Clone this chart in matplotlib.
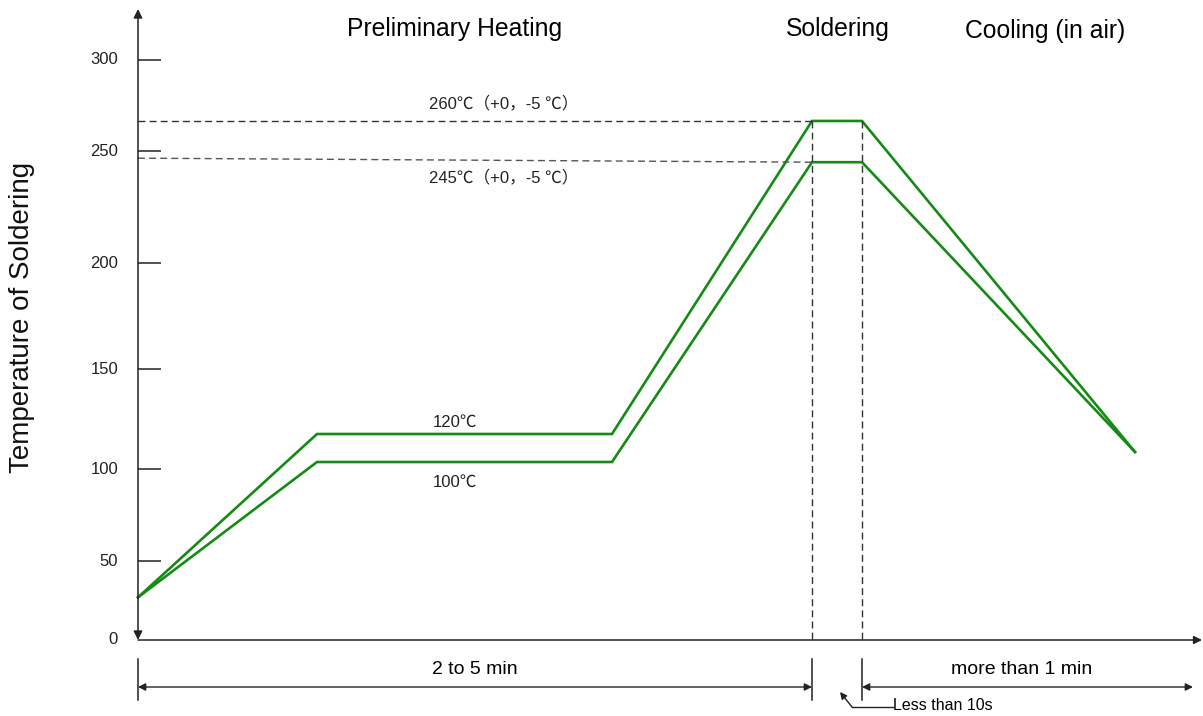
import numpy as np
import matplotlib
matplotlib.use("Agg")
import matplotlib.pyplot as plt

plt.rcParams['font.family'] = ['Liberation Sans', 'DejaVu Sans']
cjk = ['Liberation Sans', 'Noto Sans CJK JP', 'DejaVu Sans']

# y axis of the sketch is not linear: tick values and their drawn heights
tick_temps = [0, 50, 100, 150, 200, 250, 300]
tick_heights = [0, 79, 171, 271, 377, 489, 580]

# schematic time positions of the profile corners
time_pts = [0, 179, 474, 674, 724, 997]
upper_temp = [27, 117.5, 117.5, 266.5, 266.5, 108.5]
lower_temp = [27, 103.5, 103.5, 245, 245, 108.5]

# reference lines
peak_hi_line = [266.5, 266.5]
peak_lo_line = [246.8, 245]

ext_t = [-100] + tick_temps + [400]
ext_h = [-158] + tick_heights + [762]

def fwd(t):
    return np.interp(t, ext_t, ext_h)

def inv(h):
    return np.interp(h, ext_h, ext_t)

fig = plt.figure(figsize=(12.03, 7.16), dpi=100)
ax = fig.add_axes([0, 0, 1, 1])
ax.set_yscale('function', functions=(fwd, inv))
ax.set_xlim(-138, 1065)
ax.set_ylim(inv(-76), inv(640))
ax.axis('off')

green = '#158a15'
ink = '#222222'

# profile curves
ax.plot(time_pts, upper_temp, color=green, lw=1.9, solid_joinstyle='miter')
ax.plot(time_pts, lower_temp, color=green, lw=1.9, solid_joinstyle='miter')

# dashed guides
ax.plot([0, time_pts[3]], peak_hi_line, ls=(0, (5, 3)), color='#333333', lw=1)
ax.plot([0, time_pts[3]], peak_lo_line, ls=(0, (5, 3)), color='#555555', lw=1)
for xv in time_pts[3:5]:
    ax.plot([xv, xv], [upper_temp[3], 0], ls=(0, (5, 3)), color='#333333', lw=1)

# axes with arrows
arr = dict(arrowstyle='<|-|>', color=ink, lw=1.1, mutation_scale=13, shrinkA=0, shrinkB=0)
ax.annotate('', xy=(0, inv(631)), xytext=(0, 0), arrowprops=arr)
ax.annotate('', xy=(1064, 0), xytext=(0, 0),
            arrowprops=dict(arrowstyle='-|>', color=ink, lw=1.1, mutation_scale=12,
                            shrinkA=0, shrinkB=0))

# ticks and tick labels
ax.hlines(tick_temps[1:], 0, 23, color=ink, lw=1.1)
for t in tick_temps:
    ax.text(-20, t, str(t), ha='right', va='center', fontsize=12, color='#222222')

fig.text(22 / 1203, 1 - 317 / 716, 'Temperature of Soldering', rotation=90, ha='center',
         va='center', fontsize=20, color='#111111')

# phase titles
fig.text(455 / 1203, 1 - 29 / 716, 'Preliminary Heating', ha='center', va='center', fontsize=17.8)
fig.text(838 / 1203, 1 - 29 / 716, 'Soldering', ha='center', va='center', fontsize=17.8)
fig.text(1045 / 1203, 1 - 31 / 716, 'Cooling (in air)', ha='center', va='center', fontsize=17.8)

# temperature notes
ax.text(366, inv(640 - 103), '260℃（+0，-5 ℃）', ha='center', va='center', fontsize=12,
        family=cjk, color='#222222')
ax.text(366, inv(640 - 177), '245℃（+0，-5 ℃）', ha='center', va='center', fontsize=12,
        family=cjk, color='#222222')
ax.text(317, inv(640 - 422), '120℃', ha='center', va='center', fontsize=12, family=cjk,
        color='#222222')
ax.text(317, inv(640 - 482), '100℃', ha='center', va='center', fontsize=12, family=cjk,
        color='#222222')

# dimension lines below the axis
y_top = inv(640 - 659)
y_bot = inv(640 - 700)
y_dim = inv(640 - 687)
for xv in [0, time_pts[3], time_pts[4]]:
    ax.plot([xv, xv], [y_top, y_bot], color=ink, lw=1.1)
dim = dict(arrowstyle='<|-|>', color=ink, lw=1, mutation_scale=11, shrinkA=0, shrinkB=0)
ax.annotate('', xy=(0, y_dim), xytext=(time_pts[3], y_dim), arrowprops=dim)
ax.annotate('', xy=(time_pts[4], y_dim), xytext=(1055, y_dim), arrowprops=dim)
ax.text(time_pts[3] / 2, inv(640 - 670), '2 to 5 min', ha='center', va='center', fontsize=14)
ax.text(884, inv(640 - 670), 'more than 1 min', ha='center', va='center', fontsize=14)

# "Less than 10s" leader
ax.plot([714, 755], [inv(640 - 707)] * 2, color=ink, lw=1)
ax.annotate('', xy=(702, inv(640 - 692)), xytext=(714, inv(640 - 707)),
            arrowprops=dict(arrowstyle='-|>', color=ink, lw=1, mutation_scale=10,
                            shrinkA=0, shrinkB=0))
ax.text(755, inv(640 - 705), 'Less than 10s', ha='left', va='center', fontsize=11.5)

fig.savefig('out.png', dpi=100, facecolor='white')
